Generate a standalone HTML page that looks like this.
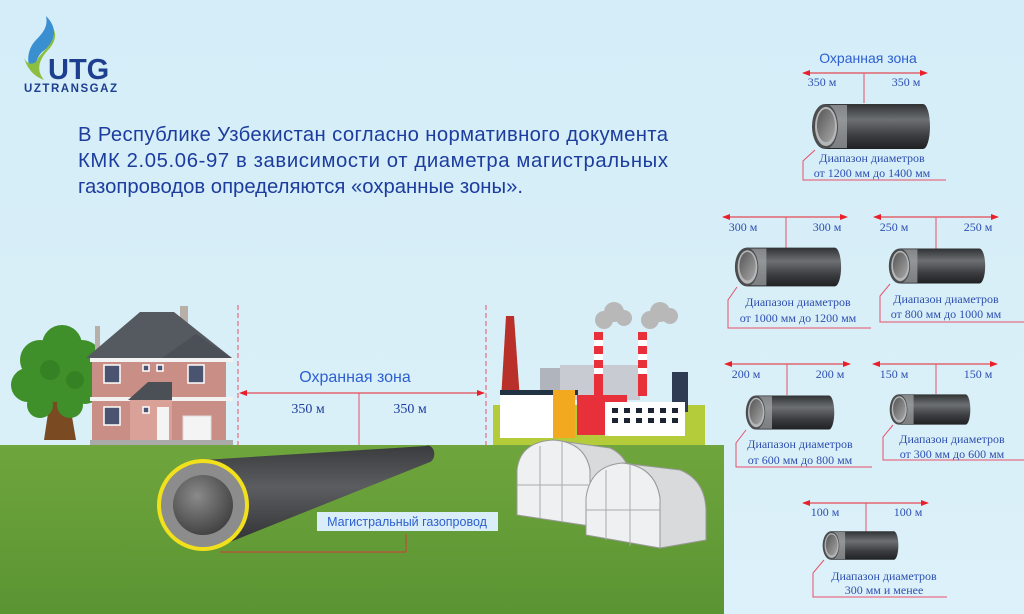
<!DOCTYPE html>
<html><head><meta charset="utf-8"><style>
html,body{margin:0;padding:0;background:#d7eef8;}
svg{display:block}
text{font-family:"Liberation Serif",serif;}
text.s,.s text{font-family:"Liberation Sans",sans-serif;}
</style></head><body>
<svg width="1024" height="614" viewBox="0 0 1024 614" xmlns="http://www.w3.org/2000/svg">
<defs>
<linearGradient id="sky" x1="0" y1="0" x2="0" y2="1"><stop offset="0" stop-color="#d4edf8"/><stop offset="1" stop-color="#dcf1f9"/></linearGradient>
<linearGradient id="grass" x1="0" y1="0" x2="0" y2="1"><stop offset="0" stop-color="#6fa53c"/><stop offset="1" stop-color="#5a9433"/></linearGradient>
<linearGradient id="pb" x1="0" y1="0" x2="0" y2="1"><stop offset="0" stop-color="#2f3133"/><stop offset="0.35" stop-color="#6d7073"/><stop offset="0.7" stop-color="#3b3d40"/><stop offset="1" stop-color="#1f2123"/></linearGradient>
<linearGradient id="pi" x1="0" y1="0" x2="1" y2="1"><stop offset="0" stop-color="#555"/><stop offset="1" stop-color="#a8a8a8"/></linearGradient>
<linearGradient id="mp" x1="0" y1="0" x2="0" y2="1"><stop offset="0" stop-color="#3a3b3d"/><stop offset="0.4" stop-color="#5b5d60"/><stop offset="1" stop-color="#2c2d2f"/></linearGradient>
<radialGradient id="mi" cx="0.4" cy="0.35" r="0.7"><stop offset="0" stop-color="#8a8a8a"/><stop offset="1" stop-color="#3f3f3f"/></radialGradient>
<symbol id="pipe" viewBox="0 0 120 50" preserveAspectRatio="none">
<path d="M14 2 H112 A7 23 0 0 1 112 48 H14 Z" fill="url(#pb)"/>
<rect x="14" y="3" width="22" height="44" fill="#a4a6a8" opacity="0.7"/>
<ellipse cx="14" cy="25" rx="13" ry="23" fill="#4a4c4e"/>
<ellipse cx="15" cy="25" rx="11" ry="20" fill="#b4b6b8"/>
<ellipse cx="15" cy="24" rx="9" ry="17" fill="url(#pi)"/>
</symbol>
<marker id="ar" markerWidth="8" markerHeight="6" refX="7" refY="3" orient="auto"><path d="M0 0 L8 3 L0 6Z" fill="#e8202a"/></marker>
<marker id="al" markerWidth="8" markerHeight="6" refX="1" refY="3" orient="auto"><path d="M8 0 L0 3 L8 6Z" fill="#e8202a"/></marker>
</defs>
<rect width="1024" height="614" fill="url(#sky)"/>
<!-- logo -->
<path d="M46 16 C60 30 54 44 42 52 C34 60 34 72 40 78 C24 70 26 50 36 40 C44 32 48 26 46 16Z" fill="#3a8fd0"/>
<path d="M24 58 C28 70 34 76 44 80 C36 70 38 60 50 48 C56 40 56 34 54 30 C56 44 40 52 36 62 C30 66 26 62 24 58Z" fill="#8cbf3f"/>
<text x="48" y="79" class="s" font-weight="bold" font-size="29" fill="#1e3f8f">UTG</text>
<text x="24" y="92" class="s" font-weight="bold" font-size="11.5" fill="#1e3f8f" textLength="93">UZTRANSGAZ</text>
<!-- main text -->
<g class="s" font-size="20.3" fill="#1d3d9e">
<text x="78" y="141" textLength="590" lengthAdjust="spacing">В Республике Узбекистан согласно нормативного документа</text>
<text x="78" y="167" textLength="590" lengthAdjust="spacing">КМК 2.05.06-97 в зависимости от диаметра магистральных</text>
<text x="78" y="193">газопроводов определяются «охранные зоны».</text>
</g>
<!-- grass -->
<rect x="0" y="445" width="724" height="169" fill="url(#grass)"/>
<!-- tree -->
<path d="M44 440 L50 400 L44 388 L58 395 L62 380 L70 395 L78 390 L70 405 L76 440 Z" fill="#7a4a22"/>
<g fill="#3f8f2a"><circle cx="40" cy="360" r="20"/><circle cx="62" cy="345" r="20"/><circle cx="82" cy="360" r="20"/><circle cx="28" cy="385" r="17"/><circle cx="55" cy="380" r="22"/><circle cx="85" cy="388" r="16"/><circle cx="70" cy="405" r="13"/><circle cx="40" cy="405" r="13"/></g>
<g fill="#2f7a22" opacity="0.6"><circle cx="50" cy="370" r="10"/><circle cx="75" cy="380" r="9"/></g>
<!-- house -->
<rect x="180" y="306" width="8" height="18" fill="#b8b0a8"/>
<rect x="95" y="326" width="5" height="25" fill="#b8b0a8"/>
<rect x="92" y="358" width="134" height="86" fill="#c98f86"/>
<polygon points="86,358 140,312 174,312 232,358" fill="#555a60"/>
<polygon points="162,358 196,334 232,358" fill="#4b5056"/>
<rect x="90" y="358" width="143" height="4" fill="#f2f2f2"/>
<rect x="90" y="397" width="143" height="4" fill="#f2f2f2"/>
<polygon points="128,400 148,382 172,382 172,400" fill="#4b5056"/>
<rect x="130" y="400" width="42" height="44" fill="#d9a197"/>
<g fill="#4a5370" stroke="#fff" stroke-width="1.5"><rect x="104" y="365" width="16" height="18"/><rect x="188" y="365" width="16" height="18"/><rect x="104" y="407" width="16" height="18"/><rect x="143" y="365" width="6" height="6"/><rect x="157" y="365" width="6" height="6"/><rect x="143" y="407" width="6" height="6"/></g>
<rect x="157" y="407" width="12" height="37" fill="#f4f4f4"/>
<rect x="183" y="416" width="28" height="28" fill="#f4f4f4" stroke="#ddd"/>
<rect x="90" y="440" width="143" height="5" fill="#aaa"/>
<!-- zone dims -->
<g stroke="#e8506a" stroke-width="1" stroke-dasharray="5,3"><line x1="238" y1="305" x2="238" y2="445"/><line x1="486" y1="305" x2="486" y2="445"/></g>
<line x1="240" y1="393" x2="484" y2="393" stroke="#e8202a" stroke-width="1" marker-start="url(#al)" marker-end="url(#ar)"/>
<line x1="359" y1="393" x2="359" y2="445" stroke="#e8506a" stroke-width="1"/>
<text x="355" y="382" class="s" font-size="16" fill="#2d5fd0" text-anchor="middle">Охранная зона</text>
<text x="308" y="413" font-size="14" fill="#1d3d9e" text-anchor="middle">350 м</text>
<text x="410" y="413" font-size="14" fill="#1d3d9e" text-anchor="middle">350 м</text>
<!-- factory -->
<rect x="493" y="405" width="212" height="40" fill="#b5cc3a"/>
<polygon points="501,400 506,316 514,316 520,400" fill="#b9302a"/>
<rect x="540" y="368" width="40" height="30" fill="#b0b5bd"/>
<rect x="560" y="365" width="80" height="35" fill="#c8ccd2"/>
<rect x="594" y="332" width="9" height="64" fill="#e8303a"/><rect x="594" y="340" width="9" height="6" fill="#fff"/><rect x="594" y="354" width="9" height="6" fill="#fff"/><rect x="594" y="368" width="9" height="6" fill="#fff"/>
<rect x="638" y="332" width="9" height="64" fill="#e8303a"/><rect x="638" y="340" width="9" height="6" fill="#fff"/><rect x="638" y="354" width="9" height="6" fill="#fff"/><rect x="638" y="368" width="9" height="6" fill="#fff"/>
<g fill="#b8b8b8"><circle cx="604" cy="320" r="9"/><circle cx="614" cy="312" r="10"/><circle cx="624" cy="318" r="8"/><circle cx="650" cy="320" r="9"/><circle cx="660" cy="312" r="10"/><circle cx="670" cy="316" r="8"/></g>
<rect x="672" y="372" width="16" height="40" fill="#2e3b52"/>
<rect x="500" y="393" width="75" height="45" fill="#fff"/>
<rect x="500" y="390" width="78" height="5" fill="#223344"/>
<rect x="553" y="390" width="22" height="48" fill="#f2a91f"/>
<rect x="577" y="395" width="50" height="40" fill="#e8303a"/>
<rect x="605" y="402" width="80" height="34" fill="#fff"/>
<g fill="#1c2433"><rect x="612" y="408" width="6" height="5"/><rect x="624" y="408" width="6" height="5"/><rect x="636" y="408" width="6" height="5"/><rect x="648" y="408" width="6" height="5"/><rect x="660" y="408" width="6" height="5"/><rect x="672" y="408" width="6" height="5"/><rect x="612" y="418" width="6" height="5"/><rect x="624" y="418" width="6" height="5"/><rect x="636" y="418" width="6" height="5"/><rect x="648" y="418" width="6" height="5"/><rect x="660" y="418" width="6" height="5"/><rect x="672" y="418" width="6" height="5"/></g>
<!-- greenhouses -->
<path d="M553 440 L610 448 Q632 458 632 490 L632 522 L590 526 L590 470 Q585 442 553 440Z" fill="#d8dadc" stroke="#999"/>
<path d="M517 515 L517 470 Q520 442 553 440 Q585 442 590 470 L590 526 Z" fill="#eef0f2" stroke="#999"/>
<path d="M622 463 L680 470 Q705 480 706 510 L706 540 L660 548 L660 498 Q655 466 622 463Z" fill="#d8dadc" stroke="#999"/>
<path d="M586 535 L586 498 Q590 466 622 463 Q655 466 660 498 L660 548 Z" fill="#eef0f2" stroke="#999"/>
<g stroke="#aaa" stroke-width="1"><line x1="540" y1="446" x2="540" y2="518"/><line x1="562" y1="442" x2="562" y2="522"/><line x1="606" y1="470" x2="606" y2="540"/><line x1="630" y1="465" x2="630" y2="546"/><line x1="517" y1="485" x2="590" y2="485"/><line x1="586" y1="510" x2="660" y2="510"/></g>
<!-- main pipe -->
<path d="M203 460 L426 446 A6 8 0 0 1 430 462 L210 550 Z" fill="url(#mp)"/>
<circle cx="203" cy="505" r="46" fill="#f2e01c"/>
<circle cx="203" cy="505" r="42" fill="#8c8c8c"/>
<circle cx="203" cy="505" r="30" fill="url(#mi)"/>
<rect x="317" y="512" width="181" height="19" fill="#d9eef8"/>
<text x="407" y="526" class="s" font-size="12.5" fill="#2d5fd0" text-anchor="middle">Магистральный газопровод</text>
<polyline points="220,552 406,552 406,534" fill="none" stroke="#d43b3b" stroke-width="1"/>
<!-- right panel -->
<g font-size="12" fill="#2d4fb0">
<text x="868" y="63" class="s" font-size="14" text-anchor="middle" fill="#2d5fd0">Охранная зона</text>
<line x1="803" y1="73" x2="927" y2="73" stroke="#e8202a" marker-start="url(#al)" marker-end="url(#ar)"/>
<line x1="864" y1="73" x2="864" y2="103" stroke="#e8506a"/>
<text x="822" y="86" text-anchor="middle">350 м</text><text x="906" y="86" text-anchor="middle">350 м</text>
<use href="#pipe" x="811" y="102" width="120" height="49"/>
<polyline points="815,150 803,161 803,180 946,180" fill="none" stroke="#e8506a"/>
<text x="872" y="162" text-anchor="middle">Диапазон диаметров</text><text x="872" y="177" text-anchor="middle">от 1200 мм до 1400 мм</text>

<line x1="723" y1="217" x2="847" y2="217" stroke="#e8202a" marker-start="url(#al)" marker-end="url(#ar)"/>
<line x1="786" y1="217" x2="786" y2="248" stroke="#e8506a"/>
<text x="743" y="231" text-anchor="middle">300 м</text><text x="827" y="231" text-anchor="middle">300 м</text>
<use href="#pipe" x="734" y="246" width="108" height="42"/>
<polyline points="737,287 728,300 728,328 871,328" fill="none" stroke="#e8506a"/>
<text x="798" y="306" text-anchor="middle">Диапазон диаметров</text><text x="798" y="322" text-anchor="middle">от 1000 мм до 1200 мм</text>

<line x1="874" y1="217" x2="998" y2="217" stroke="#e8202a" marker-start="url(#al)" marker-end="url(#ar)"/>
<line x1="936" y1="217" x2="936" y2="249" stroke="#e8506a"/>
<text x="894" y="231" text-anchor="middle">250 м</text><text x="978" y="231" text-anchor="middle">250 м</text>
<use href="#pipe" x="888" y="247" width="98" height="38"/>
<polyline points="890,284 880,296 880,322 1024,322" fill="none" stroke="#e8506a"/>
<text x="946" y="303" text-anchor="middle">Диапазон диаметров</text><text x="946" y="318" text-anchor="middle">от 800 мм до 1000 мм</text>

<line x1="725" y1="364" x2="850" y2="364" stroke="#e8202a" marker-start="url(#al)" marker-end="url(#ar)"/>
<line x1="787" y1="364" x2="787" y2="395" stroke="#e8506a"/>
<text x="746" y="378" text-anchor="middle">200 м</text><text x="830" y="378" text-anchor="middle">200 м</text>
<use href="#pipe" x="745" y="394" width="90" height="37"/>
<polyline points="746,430 736,443 736,467 872,467" fill="none" stroke="#e8506a"/>
<text x="800" y="448" text-anchor="middle">Диапазон диаметров</text><text x="800" y="464" text-anchor="middle">от 600 мм до 800 мм</text>

<line x1="873" y1="364" x2="997" y2="364" stroke="#e8202a" marker-start="url(#al)" marker-end="url(#ar)"/>
<line x1="936" y1="364" x2="936" y2="394" stroke="#e8506a"/>
<text x="894" y="378" text-anchor="middle">150 м</text><text x="978" y="378" text-anchor="middle">150 м</text>
<use href="#pipe" x="889" y="393" width="82" height="33"/>
<polyline points="893,425 883,437 883,460 1024,460" fill="none" stroke="#e8506a"/>
<text x="952" y="443" text-anchor="middle">Диапазон диаметров</text><text x="952" y="458" text-anchor="middle">от 300 мм до 600 мм</text>

<line x1="803" y1="503" x2="928" y2="503" stroke="#e8202a" marker-start="url(#al)" marker-end="url(#ar)"/>
<line x1="866" y1="503" x2="866" y2="532" stroke="#e8506a"/>
<text x="825" y="516" text-anchor="middle">100 м</text><text x="908" y="516" text-anchor="middle">100 м</text>
<use href="#pipe" x="822" y="530" width="77" height="31"/>
<polyline points="824,560 813,573 813,597 947,597" fill="none" stroke="#e8506a"/>
<text x="884" y="580" text-anchor="middle">Диапазон диаметров</text><text x="884" y="594" text-anchor="middle">300 мм и менее</text>
</g>
</svg>
</body></html>
